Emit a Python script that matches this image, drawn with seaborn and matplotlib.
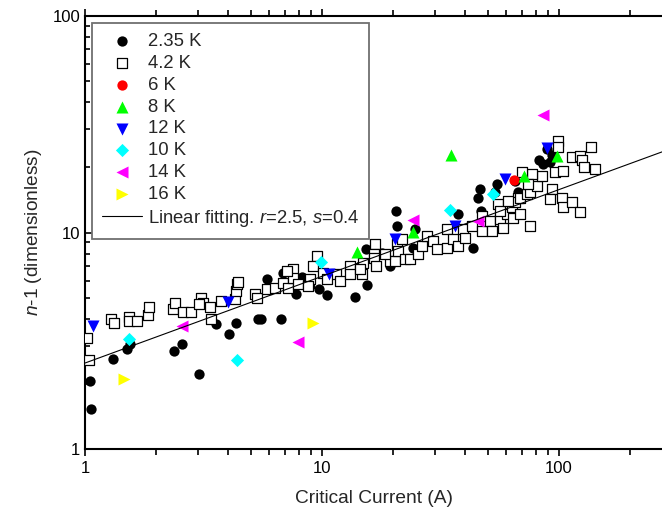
import numpy as np
import matplotlib
matplotlib.use('Agg')
import matplotlib.pyplot as plt
from matplotlib.ticker import FuncFormatter, NullFormatter
import seaborn as sns

# data (Ic in A, n-1)
x_235 = [1.05, 1.06, 1.31, 1.51, 1.55, 2.37, 2.57, 3.03, 3.56, 4.05, 4.34, 5.37, 5.51, 6.69,
         5.88, 6.87, 8.21, 7.74, 9.74, 10.5, 13.8, 15.5, 15.4, 17.9, 19.4, 20.7, 20.5, 24.7,
         24.3, 37.6, 43.5, 46.4, 45.7, 46.7, 54.6, 53.7, 63.1, 65.2, 82.6, 85.9, 91.6, 93.2,
         88.7, 14.5, 67.3]
y_235 = [2.07, 1.53, 2.61, 2.91, 3.07, 2.85, 3.07, 2.23, 3.80, 3.41, 3.82, 4.01, 4.01, 3.97,
         6.08, 6.48, 6.25, 5.18, 5.51, 5.13, 5.03, 5.72, 8.43, 8.08, 7.0, 10.7, 12.6, 10.4,
         8.52, 12.2, 8.52, 15.9, 14.5, 12.6, 16.7, 15.3, 13.8, 17.3, 21.7, 20.7, 21.1, 22.8,
         24.3, 7.0, 15.3]

x_42 = [1.02, 1.04, 1.29, 1.33, 1.53, 1.54, 1.66, 1.84, 1.86, 2.34, 2.39, 2.59, 2.81, 3.09,
        3.15, 3.03, 3.36, 3.39, 3.74, 4.28, 4.32, 4.38, 4.42, 5.20, 5.33, 5.84, 6.34, 6.87,
        7.21, 7.52, 7.57, 7.94, 8.84, 8.90, 9.50, 9.19, 8.75, 10.1, 11.5, 11.9, 13.1, 13.1,
        14.7, 14.9, 14.5, 16.7, 16.6, 16.5, 16.9, 19.4, 20.7, 20.3, 18.4, 21.0, 22.4, 21.7,
        23.5, 25.5, 26.3, 27.7, 29.5, 30.5, 33.6, 33.6, 35.8, 37.6, 39.5, 40.1, 42.8, 47.2,
        47.2, 51.2, 52.0, 55.5, 56.4, 58.2, 60.1, 63.1, 64.1, 67.3, 65.2, 56.4, 61.1, 68.5,
        73.1, 75.5, 80.5, 84.5, 96.2, 104, 93.2, 91.6, 103, 104, 113, 123, 113, 123, 125,
        127, 137, 142, 99.3, 99.3, 68.5, 75.5, 76.7, 69.6, 74.2, 10.5, 7.10]
y_42 = [3.26, 2.57, 4.0, 3.83, 4.07, 3.90, 3.90, 4.16, 4.54, 4.46, 4.74, 4.31, 4.31, 4.97,
        4.74, 4.66, 4.52, 4.0, 4.82, 4.91, 5.37, 5.76, 5.91, 5.22, 4.97, 5.47, 5.56, 5.87,
        5.56, 6.76, 6.19, 5.76, 5.87, 6.08, 7.79, 7.0, 5.66, 6.53, 6.41, 5.97, 7.0, 6.41,
        6.41, 7.26, 6.76, 8.83, 7.94, 7.66, 7.0, 7.39, 8.83, 7.39, 7.94, 8.22, 7.52, 9.31,
        7.52, 7.94, 8.67, 9.65, 9.14, 8.37, 10.4, 8.52, 9.31, 8.67, 10.4, 9.48, 10.7, 10.2,
        11.9, 11.3, 10.2, 13.5, 11.5, 10.5, 12.2, 13.1, 11.7, 14.5, 13.8, 12.6, 14.0, 14.5,
        15.0, 15.3, 16.4, 18.3, 19.0, 19.3, 15.9, 14.3, 14.5, 13.1, 13.8, 12.4, 22.3, 22.6, 21.5,
        20.0, 24.8, 19.6, 26.3, 24.8, 12.2, 10.7, 18.6, 19.0, 16.7, 6.08, 6.64]

x_6 = [64.6]
y_6 = [17.5]

x_8 = [14.1, 24.1, 34.9, 71.2, 98.4]
y_8 = [8.15, 10.1, 22.8, 18.3, 22.5]

x_12 = [1.08, 4.01, 10.7, 20.3, 36.4, 59.2, 88.7]
y_12 = [3.72, 4.79, 6.41, 9.31, 10.7, 17.6, 24.5]

x_10 = [1.54, 4.37, 9.88, 34.7, 52.5]
y_10 = [3.21, 2.59, 7.31, 12.7, 15.0]

x_14 = [2.57, 7.94, 24.1, 45.6, 85.9]
y_14 = [3.72, 3.13, 11.4, 11.3, 34.7]

x_16 = [1.46, 9.19]
y_16 = [2.12, 3.83]

# linear fitting in log-log: n-1 = r * Ic^s
fit_r = 2.5
fit_s = 0.4
fit_x = np.array([1.0, 272.0])
fit_y = fit_r * fit_x ** fit_s

sns.set_style('ticks')
plt.rcParams['font.family'] = ['Liberation Sans', 'DejaVu Sans']
plt.rcParams['mathtext.fontset'] = 'custom'
plt.rcParams['mathtext.rm'] = 'Liberation Sans'
plt.rcParams['mathtext.it'] = 'Liberation Sans:italic'

fig = plt.figure(figsize=(6.62, 5.18), dpi=100)
ax = fig.add_axes([0.1284, 0.1326, 0.8716, 0.8371])

sns.scatterplot(x=x_235, y=y_235, marker='o', color='black', s=55, linewidth=0,
                label='2.35 K', ax=ax, zorder=3)
sns.scatterplot(x=x_42, y=y_42, marker='s', facecolor='white', edgecolor='black', s=48,
                linewidth=0.9, label='4.2 K', ax=ax, zorder=3)
sns.scatterplot(x=x_6, y=y_6, marker='o', color='#ff0000', s=55, linewidth=0,
                label='6 K', ax=ax, zorder=4)
sns.scatterplot(x=x_8, y=y_8, marker='^', color='#00ff00', s=75, linewidth=0,
                label='8 K', ax=ax, zorder=4)
sns.scatterplot(x=x_12, y=y_12, marker='v', color='#0000ff', s=75, linewidth=0,
                label='12 K', ax=ax, zorder=4)
sns.scatterplot(x=x_10, y=y_10, marker='D', color='#00ffff', s=45, linewidth=0,
                label='10 K', ax=ax, zorder=4)
sns.scatterplot(x=x_14, y=y_14, marker='<', color='#ff00ff', s=75, linewidth=0,
                label='14 K', ax=ax, zorder=4)
sns.scatterplot(x=x_16, y=y_16, marker='>', color='#ffff00', s=75, linewidth=0,
                label='16 K', ax=ax, zorder=4)
fit_label = r'Linear fitting. $\it{r}$=2.5, $\it{s}$=0.4'
sns.lineplot(x=fit_x, y=fit_y, color='black', linewidth=0.8, label=fit_label, ax=ax, zorder=5)

ax.set_xscale('log')
ax.set_yscale('log')
ax.set_xlim(1, 272)
ax.set_ylim(1, 100)

fmt = FuncFormatter(lambda v, _: f'{v:g}')
ax.xaxis.set_major_formatter(fmt)
ax.yaxis.set_major_formatter(fmt)
ax.xaxis.set_minor_formatter(NullFormatter())
ax.yaxis.set_minor_formatter(NullFormatter())

ax.spines['right'].set_visible(False)
for sp in ['left', 'bottom', 'top']:
    ax.spines[sp].set_linewidth(1.5)
    ax.spines[sp].set_color('black')

ax.tick_params(axis='x', which='both', direction='out', top=True, bottom=True,
               labelsize=12, width=1.2, colors='black')
ax.tick_params(axis='x', which='major', length=5)
ax.tick_params(axis='x', which='minor', length=4)
ax.tick_params(axis='y', which='both', direction='in', left=True, right=False,
               labelsize=12, width=1.2, colors='black')
ax.tick_params(axis='y', which='major', length=6)
ax.tick_params(axis='y', which='minor', length=3.5)

ax.set_xlabel('Critical Current (A)', fontsize=13.8, labelpad=10)
ax.set_ylabel(r'$\it{n}$-1 (dimensionless)', fontsize=13.8, labelpad=6)

handles, labels = ax.get_legend_handles_labels()
order = ['2.35 K', '4.2 K', '6 K', '8 K', '12 K', '10 K', '14 K', '16 K', fit_label]
hmap = dict(zip(labels, handles))
leg = ax.legend([hmap[l] for l in order], order, loc='upper left',
                bbox_to_anchor=(0.012, 0.983), fontsize=13.3, frameon=True,
                fancybox=False, edgecolor='#707070', framealpha=1,
                labelspacing=0.26, handlelength=2.15, handletextpad=0.32,
                borderpad=0.55, borderaxespad=0)
leg.get_frame().set_linewidth(1.3)

fig.savefig('out.png', dpi=100)
